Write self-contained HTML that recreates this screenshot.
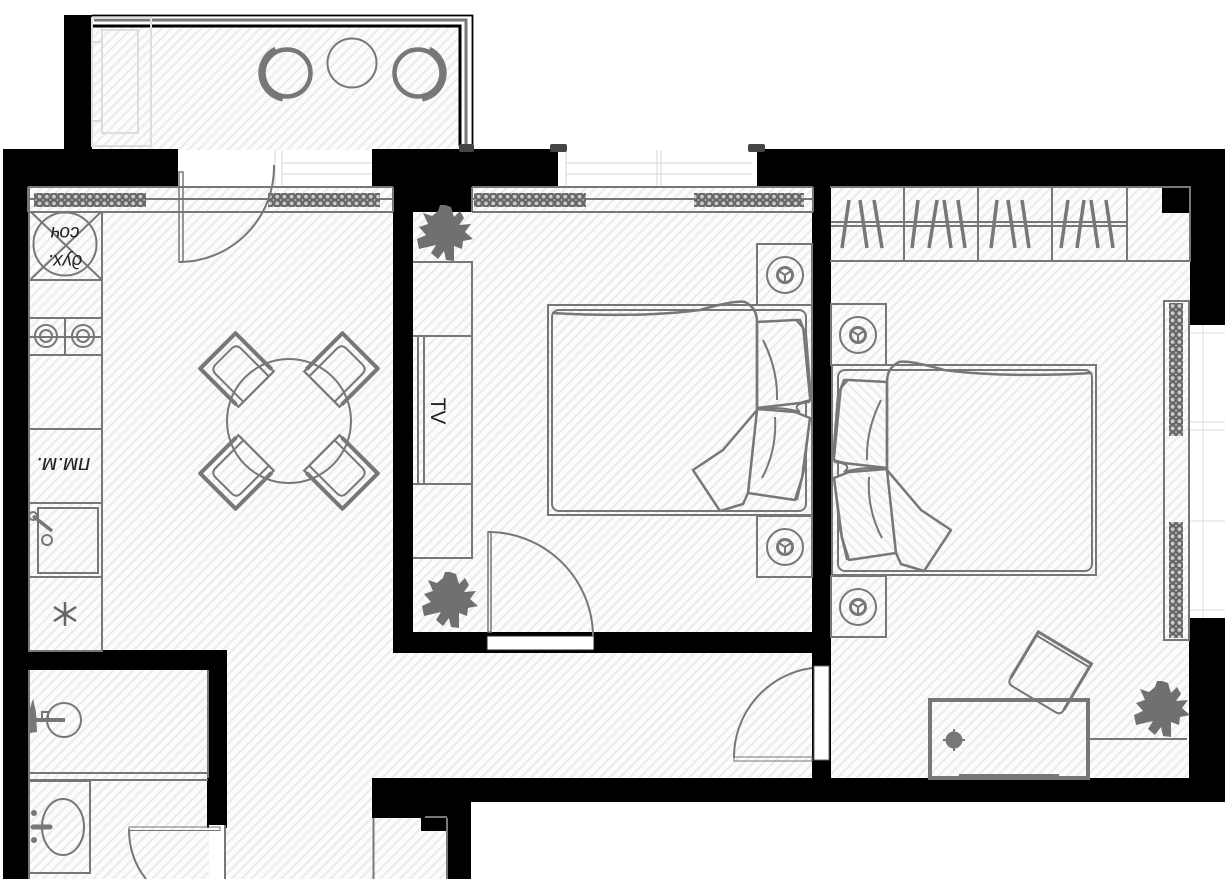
<!DOCTYPE html>
<html><head><meta charset="utf-8"><style>
html,body{margin:0;padding:0;background:#fff}
svg{display:block}
text{font-family:"Liberation Sans","Noto Sans CJK SC",sans-serif;fill:#222}
.g{fill:none;stroke:#777;stroke-width:2}
.t{fill:none;stroke:#777;stroke-width:3}
.k{fill:#000}
</style></head><body>
<svg xmlns="http://www.w3.org/2000/svg" width="1225" height="879" viewBox="0 0 1225 879">
<defs>
<pattern id="h" width="7" height="7" patternUnits="userSpaceOnUse" patternTransform="rotate(45)">
<rect width="7" height="7" fill="#fcfcfd"/><rect width="2.2" height="7" fill="#ececee"/>
</pattern>
<pattern id="c" x="0" y="193" width="7.2" height="14" patternUnits="userSpaceOnUse">
<rect width="7.2" height="14" fill="#bbb"/>
<ellipse cx="3.6" cy="3.6" rx="3" ry="3" fill="#ccc" stroke="#666" stroke-width="2.200"/>
<ellipse cx="3.6" cy="10.4" rx="3" ry="3" fill="#ccc" stroke="#666" stroke-width="2.200"/>
</pattern>
<pattern id="cv" x="1169" y="0" width="14" height="7.2" patternUnits="userSpaceOnUse">
<rect width="14" height="7.2" fill="#bbb"/>
<ellipse cx="3.6" cy="3.6" rx="3" ry="3" fill="#ccc" stroke="#666" stroke-width="2.200"/>
<ellipse cx="10.4" cy="3.6" rx="3" ry="3" fill="#ccc" stroke="#666" stroke-width="2.200"/>
</pattern>
<g id="chair">
<rect x="-25" y="-27" width="50" height="54" fill="none" stroke="#777" stroke-width="2.200"/>
<path d="M-25 24V-27H25V24" fill="none" stroke="#777" stroke-width="4" stroke-linejoin="round"/>
<path d="M-18 27V-12Q-18 -19 -11 -19H11Q18 -19 18 -12V27" fill="none" stroke="#777" stroke-width="2"/>
</g>
<g id="stand">
<rect x="0" y="0" width="55" height="61" class="g"/>
<circle cx="28" cy="31" r="18" class="g" stroke-width="2.500"/>
<circle cx="28" cy="31" r="7.500" class="t"/>
<path d="M28 31V38M28 31L22 27M28 31L34 27" class="g"/>
</g>
<g id="plant" fill="#707070">
<path d="M0 -28L6 -26L9 -16L15 -22L19 -15L14 -8L26 -9L20 -1L28 6L18 8L17 16L9 13L9 28L1 27L-1 18L-7 26L-14 20L-9 12L-26 16L-28 6L-19 2L-26 -6L-17 -9L-22 -20L-13 -17L-7 -22L-5 -28Z"/>
</g>
<g id="bed">
<rect x="548" y="305" width="264" height="210" class="g" stroke-width="2.500"/>
<rect x="552" y="310" width="254" height="201" rx="7" class="g" stroke-width="2.500"/>
<path d="M757 322L795 320L800 320L806 336L811 400L800 403L757 408Z" fill="url(#h)" stroke="#777" stroke-width="2.500" stroke-linejoin="round"/>
<path d="M796 320L803 328L810 400" class="g"/>
<path d="M757 409L795 412L810 418L802 478L795 500L748 493Z" fill="url(#h)" stroke="#777" stroke-width="2.500" stroke-linejoin="round"/>
<path d="M810 418L804 470L797 500" class="g"/>
<path d="M763 340Q778 370 777 400M775 417Q777 450 762 478" class="g"/>
<path d="M757 409Q780 406 800 412Q790 404 810 402" class="g"/>
<path d="M552 313Q640 318 700 310Q735 300 745 302Q757 308 757 322V410" fill="none" stroke="#777" stroke-width="2.500"/>
<path d="M757 410L723 450L693 470L720 511L743 504L748 493L757 410" fill="url(#h)" stroke="#777" stroke-width="2.500" stroke-linejoin="round"/>
</g>
</defs>
<rect width="1225" height="879" fill="#fff"/>

<!-- hatched floors -->
<rect x="92" y="27" width="368" height="123" fill="url(#h)"/>
<rect x="28" y="186" width="785" height="466" fill="url(#h)"/>
<rect x="28" y="650" width="345" height="229" fill="url(#h)"/>
<rect x="373" y="650" width="440" height="130" fill="url(#h)"/>
<rect x="831" y="186" width="360" height="594" fill="url(#h)"/>
<rect x="373" y="815" width="75" height="64" fill="url(#h)"/>

<!-- walls -->
<rect class="k" x="64" y="15" width="28" height="140"/>
<rect class="k" x="3" y="149" width="175" height="37"/>
<rect class="k" x="3" y="149" width="25" height="730"/>
<rect class="k" x="372" y="149" width="186" height="37"/>
<rect class="k" x="393" y="149" width="79" height="63"/>
<rect class="k" x="393" y="186" width="20" height="466"/>
<rect class="k" x="393" y="632" width="438" height="21"/>
<rect class="k" x="812" y="149" width="19" height="630"/>
<rect class="k" x="757" y="149" width="468" height="37"/>
<rect class="k" x="1190" y="149" width="35" height="176"/>
<rect class="k" x="1189" y="618" width="36" height="184"/>
<rect class="k" x="1162" y="187" width="28" height="26"/>
<rect class="k" x="372" y="778" width="853" height="24"/>
<rect class="k" x="372" y="778" width="98" height="40"/>
<rect class="k" x="447" y="778" width="24" height="101"/>
<rect class="k" x="421" y="817" width="27" height="14"/>
<rect class="k" x="28" y="650" width="199" height="20"/>
<rect class="k" x="207" y="650" width="20" height="178"/>

<!-- balcony -->
<path d="M92 15.500H472.500V146" fill="none" stroke="#000" stroke-width="1.800"/>
<path d="M94 20H466V146" fill="none" stroke="#777" stroke-width="3"/>
<path d="M92 26H460V146" fill="none" stroke="#000" stroke-width="3"/>
<rect x="459" y="144" width="15" height="8" rx="2" fill="#444"/>
<g fill="none" stroke="#ddd" stroke-width="2">
<rect x="92" y="18" width="59" height="128"/>
<rect x="102" y="30" width="36" height="103"/>
<path d="M92 42H102M92 121H102"/>
</g>
<circle cx="352" cy="63" r="24.500" class="g"/>
<circle cx="287" cy="73" r="23.500" fill="none" stroke="#777" stroke-width="4.500"/>
<path d="M276 50A25.500 25.500 0 0 0 283 98" fill="none" stroke="#777" stroke-width="7"/>
<circle cx="418" cy="73" r="23.500" fill="none" stroke="#777" stroke-width="4.500"/>
<path d="M429 50A25.500 25.500 0 0 1 422 98" fill="none" stroke="#777" stroke-width="7"/>

<!-- openings -->
<rect x="178" y="150" width="97" height="38" fill="#fff"/>
<rect x="275" y="150" width="97" height="38" fill="#fff"/>
<path d="M275 150V186M282 150V186M282 163H372M282 174H372" fill="none" stroke="#ddd" stroke-width="1.200"/>
<rect x="558" y="150" width="199" height="37" fill="#fff"/>
<path d="M566 150V186M657 150V186M661 150V186M566 163H752M566 174H752" fill="none" stroke="#ddd" stroke-width="1.200"/>
<rect x="550" y="144" width="17" height="8" rx="2" fill="#444"/><rect x="748" y="144" width="17" height="8" rx="2" fill="#444"/>
<rect x="1190" y="325" width="35" height="293" fill="#fff"/>
<path d="M1190 333H1225M1190 422H1225M1190 430H1225M1190 521H1225M1190 610H1225M1203 325V618" fill="none" stroke="#e2e2e2" stroke-width="1.200"/>
<rect x="487" y="636" width="107" height="14" fill="#fff" stroke="#222" stroke-width="1"/>
<rect x="814" y="666" width="15" height="94" fill="#fff" stroke="#666" stroke-width="1"/>
<rect x="209" y="825" width="15" height="54" fill="#fff"/>

<!-- curtains top -->
<path d="M28 187H393M28 199H393M28 212H393" class="g"/>
<path d="M28 187V212M393 187V212" class="g"/>
<rect x="34" y="193" width="112" height="14" fill="url(#c)"/>
<rect x="268" y="193" width="112" height="14" fill="url(#c)"/>
<path d="M472 187H813M472 199H813M472 212H813M472 187V212M813 187V212" class="g"/>
<rect x="474" y="193" width="112" height="14" fill="url(#c)"/>
<rect x="694" y="193" width="110" height="14" fill="url(#c)"/>

<!-- living door -->
<path d="M179 172H183V262H179Z" fill="none" stroke="#777" stroke-width="1.500"/>
<path d="M179 262A95 95 0 0 0 274 165" class="g" stroke-width="1.500"/>

<!-- kitchen -->
<path d="M29 187V651H102V212" class="g" stroke-width="2.500"/>
<path d="M29 280H102M29 318H102M29 355H102M29 429H102M29 503H102M29 577H102" class="g" stroke-width="2.500"/>
<path d="M31 212L101 279M101 212L31 279" class="g"/>
<circle cx="65" cy="244" r="31.500" class="g" stroke-width="2.500"/>
<text transform="translate(65,227) rotate(180)" text-anchor="middle" font-size="19" font-style="italic">соч</text>
<text transform="translate(65,255) rotate(180)" text-anchor="middle" font-size="19" font-style="italic">дух.</text>
<path d="M65 318V355M29 337H102" class="g"/>
<circle cx="46" cy="336" r="11" class="g"/><circle cx="46" cy="336" r="6" class="g"/>
<circle cx="83" cy="336" r="11" class="g"/><circle cx="83" cy="336" r="6" class="g"/>
<rect x="38" y="508" width="60" height="65" class="g" stroke-width="2.500"/>
<path d="M33 516L52 531" fill="none" stroke="#777" stroke-width="3.500"/>
<circle cx="33" cy="516" r="4" class="g"/><circle cx="47" cy="540" r="5" class="g"/>
<text transform="translate(63,458) rotate(180)" text-anchor="middle" font-size="22" font-style="italic">пм.м.</text>
<path d="M65 602V626M54 607L76 621M76 607L54 621" fill="none" stroke="#666" stroke-width="2.500"/>

<!-- dining -->
<circle cx="289" cy="421" r="62" class="g"/>
<use href="#chair" transform="translate(237,370) rotate(-45)"/>
<use href="#chair" transform="translate(341,370) rotate(45)"/>
<use href="#chair" transform="translate(237,472) rotate(-135)"/>
<use href="#chair" transform="translate(341,472) rotate(135)"/>

<!-- bedroom 1 -->
<path d="M413 262H472V558H413M413 336H472M413 484H472M418 336V484M424 336V484" class="g" stroke-width="2.500"/>
<text transform="translate(431,411) rotate(90)" text-anchor="middle" font-size="21">TV</text>
<use href="#plant" transform="translate(445,233)"/>
<use href="#plant" transform="translate(450,600)"/>
<path d="M488 532V632H491V532Z" fill="none" stroke="#777" stroke-width="1.500"/>
<path d="M488 532A105 105 0 0 1 593 636" class="g" stroke-width="1.500"/>
<use href="#stand" x="757" y="244"/>
<use href="#stand" x="757" y="516"/>
<use href="#bed"/>

<!-- bedroom 2 -->
<g transform="translate(1644,60) scale(-1,1)"><use href="#bed"/></g>
<use href="#stand" transform="translate(886,304) scale(-1,1)"/>
<use href="#stand" transform="translate(886,576) scale(-1,1)"/>
<path d="M830 187H1190V261H830M904 187V261M978 187V261M1052 187V261M1127 187V261" class="g" stroke-width="2.500"/>
<path d="M831 222H1127M831 226H1127" class="g"/>
<path d="M849 200L842 248M860 200L867 248M874 200L882 248M918 200L912 248M937 200L929 248M944 200L951 248M958 200L965 248M997 200L991 248M1008 200L1015 248M1022 200L1029 248M1068 200L1061 248M1084 200L1077 248M1091 200L1098 248M1106 200L1113 248" fill="none" stroke="#777" stroke-width="3.500"/>
<rect x="1164" y="301" width="25" height="339" class="g"/>
<rect x="1169" y="303" width="14" height="133" fill="url(#cv)"/>
<rect x="1169" y="522" width="14" height="116" fill="url(#cv)"/>
<!-- door 2 -->
<rect x="734" y="757" width="78" height="4" fill="none" stroke="#777" stroke-width="1"/>
<path d="M734 758A90 90 0 0 1 812 668" class="g" stroke-width="1.500"/>
<!-- desk -->
<path d="M1089 739H1187" class="g" stroke-width="2.500"/>
<g transform="translate(1051,671) rotate(31)">
<path d="M-31 27V-27H31V27" fill="none" stroke="#777" stroke-width="3"/>
<path d="M-31 -23H31" class="g"/>
<path d="M-31 27Q-31 33 -25 33H25Q31 33 31 27" fill="none" stroke="#777" stroke-width="2"/>
</g>
<rect x="930" y="700" width="158" height="78" fill="none" stroke="#777" stroke-width="4"/>
<rect x="959" y="774" width="100" height="4" fill="#777"/>
<circle cx="954" cy="740" r="8.500" fill="#777"/>
<path d="M943 740H965M954 729V751" class="g" stroke-width="1.500"/>
<use href="#plant" transform="translate(1162,709)"/>

<!-- bathrooms -->
<path d="M29 670V879M208 670V778" class="g" stroke-width="3"/>
<path d="M29 773H208M29 780H208" class="g" stroke-width="2.500"/>
<circle cx="64" cy="720" r="17" class="g"/>
<path d="M30 720H65" fill="none" stroke="#777" stroke-width="4"/>
<path d="M33 699L36 712L37 732L30 733V708Z" fill="#777"/>
<rect x="42" y="712" width="6" height="8" class="g"/>
<path d="M29 781H90V873H29" class="g" stroke-width="2.500"/>
<ellipse cx="63" cy="827" rx="21" ry="28" class="g"/>
<path d="M33 827H50" fill="none" stroke="#777" stroke-width="5" stroke-linecap="round"/>
<circle cx="34" cy="813" r="3" fill="#777"/><circle cx="34" cy="840" r="3" fill="#777"/>
<rect x="129" y="827" width="91" height="3.500" fill="none" stroke="#777" stroke-width="1"/>
<path d="M129 829Q129 858 146 879" class="g" stroke-width="1.500"/>
<path d="M225 825V879" class="g" stroke-width="1"/>
<path d="M373.500 818V879M447 818V879M425 817H447" class="g"/>
</svg>
</body></html>
